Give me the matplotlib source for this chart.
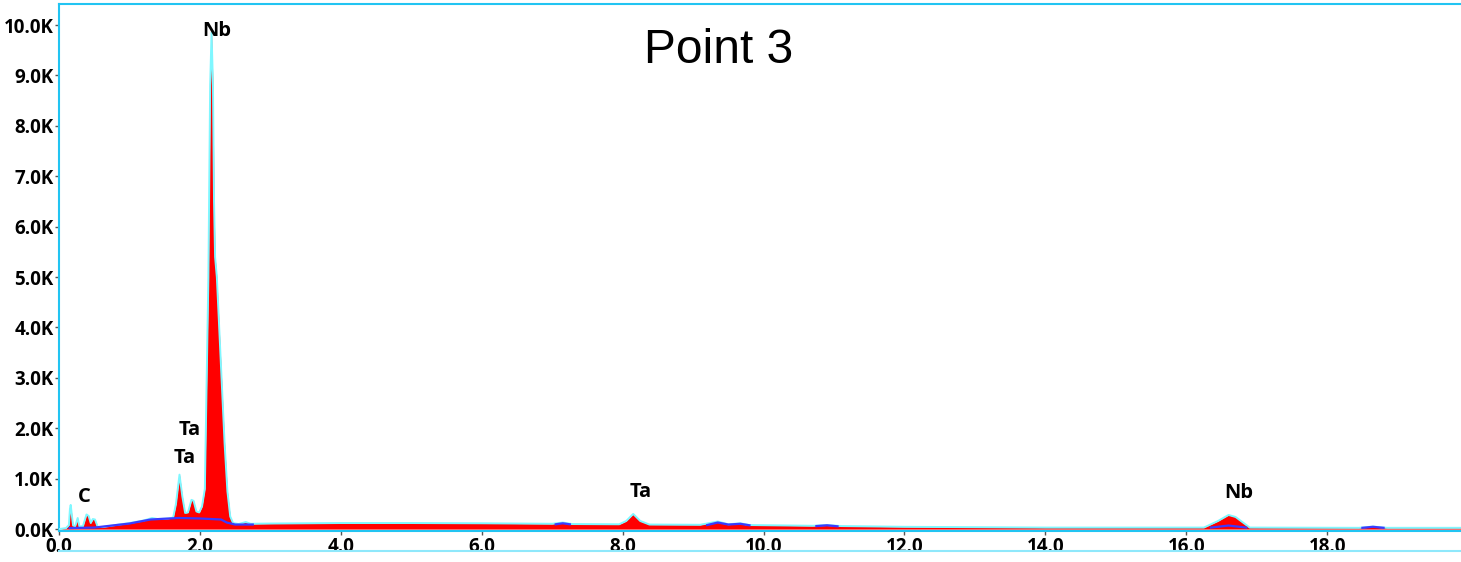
import matplotlib.pyplot as plt
from matplotlib.lines import Line2D

nan = float("nan")

# EDS spectrum, Point 3 (energy in keV, counts)
energy = [0.00, 0.10, 0.14, 0.155, 0.166, 0.18, 0.20, 0.23, 0.265, 0.29, 0.34, 0.39,
          0.42, 0.45, 0.48, 0.51, 0.55, 0.62, 0.80, 1.00, 1.20, 1.32, 1.40, 1.55,
          1.62, 1.66, 1.71, 1.75, 1.79, 1.83, 1.88, 1.91, 1.95, 1.99, 2.03, 2.07,
          2.12, 2.145, 2.165, 2.185, 2.20, 2.215, 2.24, 2.27, 2.31, 2.35, 2.39, 2.43,
          2.47, 2.55, 2.65, 2.72, 3.0, 4.0, 5.0, 6.0, 7.0, 7.15, 7.28, 7.95, 8.05,
          8.15, 8.25, 8.38, 9.1, 9.35, 9.5, 9.67, 9.8, 10.7, 10.9, 11.1, 12.0,
          14.0, 16.25, 16.45, 16.6, 16.7, 16.9, 18.45, 18.65, 18.85, 19.92]
counts = [0, 20, 80, 400, 480, 300, 70, 60, 220, 50, 60, 290,
          260, 120, 200, 190, 40, 40, 80, 120, 170, 220, 200, 210,
          230, 500, 1080, 650, 320, 330, 580, 560, 350, 330, 450, 800,
          5000, 8800, 9850, 8800, 6500, 5400, 5000, 4100, 2900, 1700, 750, 250,
          120, 100, 140, 105, 110, 120, 120, 115, 105, 130, 100, 95, 160,
          300, 160, 90, 85, 150, 95, 115, 80, 65, 80, 60, 45,
          30, 30, 160, 280, 240, 30, 25, 50, 25, 25]

# background / fitted line (blue), nan separates pieces
bg_energy = [0.15, 0.50, 1.00, 1.30, 1.70, 2.00, 2.30, 2.38, 2.50, 2.75, nan,
             7.05, 7.15, 7.25, nan, 9.2, 9.35, 9.5, 9.67, 9.8, nan,
             10.75, 10.9, 11.05, nan, 16.35, 16.6, 16.85, nan, 18.5, 18.65, 18.8]
bg_counts = [20, 30, 110, 190, 220, 210, 190, 130, 90, 90, nan,
             95, 115, 95, nan, 80, 130, 90, 105, 75, nan,
             60, 75, 55, nan, 30, 70, 30, nan, 25, 45, 25]

# element labels (text, energy, counts)
peak_labels = ["Nb", "Ta", "Ta", "C", "Ta", "Nb"]
peak_x = [2.24, 1.85, 1.79, 0.355, 8.25, 16.75]
peak_y = [9880, 1960, 1410, 635, 734, 714]

xticks = [0, 2, 4, 6, 8, 10, 12, 14, 16, 18]
xticklabels = [f"{v:.1f}" for v in xticks]
yticks = [0, 1000, 2000, 3000, 4000, 5000, 6000, 7000, 8000, 9000, 10000]
yticklabels = [f"{v / 1000:.1f}K" for v in yticks]

frame = "#22c4f2"

fig = plt.figure(figsize=(14.61, 5.62), dpi=100)
ax = fig.add_axes([0.0404, 0.055, 0.9606, 0.938])

ax.fill_between(energy, counts, 0, color="#ff0000", lw=0, zorder=2)
ax.plot(energy, counts, color="#7ff7ff", lw=1.4, zorder=3)
ax.plot(bg_energy, bg_counts, color="#3a3aff", lw=1.6, zorder=4)

for lab, x, y in zip(peak_labels, peak_x, peak_y):
    ax.text(x, y, lab, ha="center", va="center", fontsize=14.5,
            fontweight="bold", family="Open Sans", zorder=6)

fig.text(0.492, 0.911, "Point 3", ha="center", va="center",
         fontsize=34.5, family="Liberation Sans")

ax.set_xlim(0, 19.92)
ax.set_ylim(-40, 10420)
ax.set_xticks(xticks)
ax.set_xticklabels(xticklabels)
ax.set_yticks(yticks)
ax.set_yticklabels(yticklabels)
for lbl in ax.get_xticklabels() + ax.get_yticklabels():
    lbl.set_fontweight("bold")
    lbl.set_fontsize(13.5)
    lbl.set_family("Open Sans")
ax.tick_params(axis="both", direction="out", length=3, width=1,
               color="#555555", pad=1)

for side in ["left", "top", "bottom"]:
    ax.spines[side].set_color(frame)
    ax.spines[side].set_linewidth(1.5)
ax.spines["right"].set_visible(False)

fig.add_artist(Line2D([0.0404, 1.0], [0.0196, 0.0196], color="#8fe8fb",
                      lw=1.5, transform=fig.transFigure))

fig.savefig("out.png", dpi=100)
